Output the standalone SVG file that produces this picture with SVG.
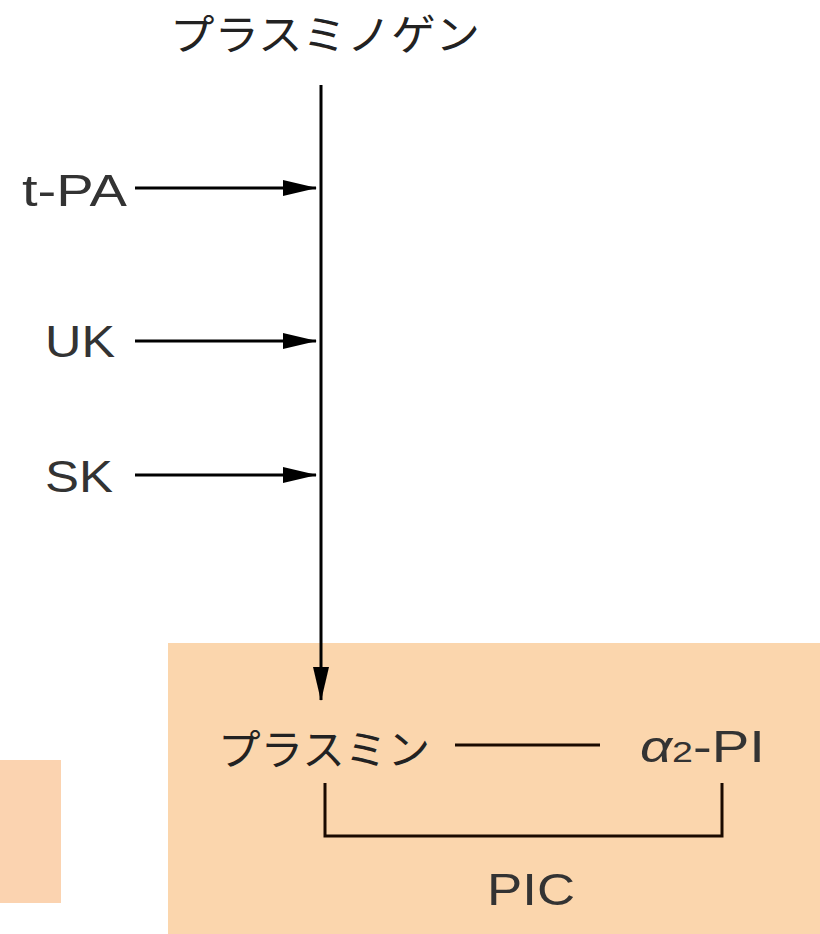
<svg xmlns="http://www.w3.org/2000/svg" width="820" height="934" viewBox="0 0 820 934">
<style>
.t{font-family:"Liberation Sans","Noto Sans CJK JP",sans-serif;font-size:42px;fill:#222}
.l{font-family:"Liberation Sans",sans-serif;font-size:45px;fill:#333}
.c{stroke:#000;stroke-width:3;fill:none}
.b{stroke:#1a0a00;stroke-width:3;fill:none}
</style>
<defs>
<marker id="ahd" markerWidth="34" markerHeight="16" refX="33" refY="8" orient="auto" markerUnits="userSpaceOnUse" viewBox="0 0 34 16">
<path d="M0,0 L34,8 L0,16 Z" fill="#000"/>
</marker>
</defs>
<rect width="820" height="934" fill="#fff"/>
<rect id="leftbox" x="0" y="760" width="61" height="143" fill="#fbd3b0"/>
<g id="complex">
<rect x="168" y="643" width="652" height="291" fill="#fbd6ad"/>
</g>
<g id="plasminogen"><text class="t" x="170" y="50" textLength="310" lengthAdjust="spacingAndGlyphs">プラスミノゲン</text></g>
<g id="tpa"><text class="l" x="22" y="206" textLength="105" lengthAdjust="spacingAndGlyphs">t-PA</text></g>
<g id="uk"><text class="l" x="45" y="357" textLength="70" lengthAdjust="spacingAndGlyphs">UK</text></g>
<g id="sk"><text class="l" x="45" y="492" textLength="68" lengthAdjust="spacingAndGlyphs">SK</text></g>
<g id="plasmin"><text class="t" x="218" y="765" textLength="212" lengthAdjust="spacingAndGlyphs">プラスミン</text></g>
<g id="a2pi"><text class="l" x="640" y="762" textLength="125" lengthAdjust="spacingAndGlyphs"><tspan font-style="italic">α</tspan><tspan font-size="30">2</tspan>-PI</text></g>
<g id="pic"><text class="l" x="487" y="905" textLength="88" lengthAdjust="spacingAndGlyphs">PIC</text></g>
<g id="connectors">
<path class="c" d="M321,85 V700" marker-end="url(#ahd)"/>
<path class="c" d="M135,188 H316" marker-end="url(#ahd)"/>
<path class="c" d="M135,341 H316" marker-end="url(#ahd)"/>
<path class="c" d="M135,475 H316" marker-end="url(#ahd)"/>
<path class="b" d="M455,745 H600"/>
<path class="b" d="M325,783 V836 H722 V783"/>
</g>
</svg>
